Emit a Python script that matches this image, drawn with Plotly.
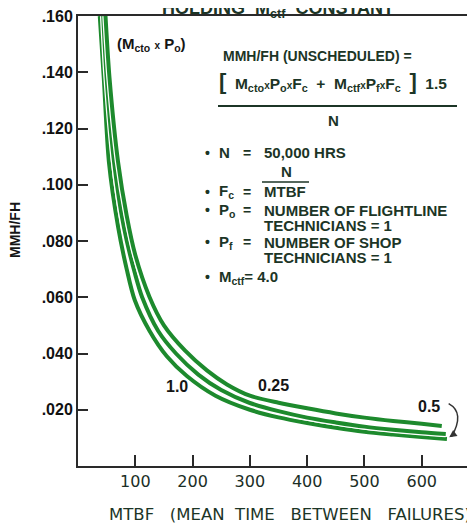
import plotly.graph_objects as go

# ---- data ----
mtbf_10 = [48, 55, 70, 85, 100, 125, 150, 187, 225, 260, 300, 350, 400, 450, 500, 550, 600, 635]
mmh_10 = [0.160, 0.138, 0.108, 0.089, 0.075, 0.060, 0.050, 0.041, 0.034, 0.029, 0.025, 0.0225,
          0.0205, 0.0187, 0.0172, 0.0160, 0.0150, 0.0142]

mtbf_05 = [44, 50, 63, 80, 100, 112, 140, 171, 210, 250, 300, 350, 400, 450, 500, 550, 600, 642]
mmh_05 = [0.160, 0.138, 0.108, 0.085, 0.068, 0.060, 0.048, 0.0400, 0.0325, 0.027, 0.0224, 0.0195,
          0.0172, 0.0155, 0.0140, 0.0129, 0.0120, 0.0114]

mtbf_025 = [38, 45, 54, 70, 85, 99, 125, 155, 190, 240, 300, 350, 400, 450, 500, 550, 600, 644]
mmh_025 = [0.160, 0.138, 0.108, 0.085, 0.070, 0.059, 0.048, 0.039, 0.032, 0.025, 0.020, 0.0173,
           0.0153, 0.0136, 0.0122, 0.0112, 0.0103, 0.0096]

x_ticks = [100, 200, 300, 400, 500, 600]
x_tick_labels = ["100", "200", "300", "400", "500", "600"]
y_ticks = [0.02, 0.04, 0.06, 0.08, 0.10, 0.12, 0.14, 0.16]
y_tick_labels = [".020", ".040", ".060", ".080", ".100", ".120", ".140", ".160"]

curve_labels = ["1.0", "0.25", "0.5"]

GREEN = "#1d8a2d"
TXT = "#1c3526"
DARK = "#151515"

fig = go.Figure()
for xs, ys in [(mtbf_025, mmh_025), (mtbf_05, mmh_05), (mtbf_10, mmh_10)]:
    fig.add_trace(go.Scatter(x=xs, y=ys, mode="lines",
                             line=dict(color="white", width=6.5, shape="spline", smoothing=0.8),
                             hoverinfo="skip", showlegend=False))
    fig.add_trace(go.Scatter(x=xs, y=ys, mode="lines",
                             line=dict(color=GREEN, width=4, shape="spline", smoothing=0.8),
                             showlegend=False))

# page has an 8px body margin; helpers map page pixels to paper coords
# plot area in page pixels: x 78..475, y 16..466
def px(xp):
    return (xp - 78) / (475 - 78)
def py(yp):
    return (466 - yp) / (466 - 16)

ann = []
def A(x, y, text, size=15, color=TXT, xanchor="left", family="Liberation Sans", **kw):
    ann.append(dict(x=px(x), y=py(y), xref="paper", yref="paper", text=text, showarrow=False,
                    xanchor=xanchor, yanchor="middle",
                    font=dict(size=size, color=color, family=family), **kw))

SX = "<span style='font-size:10px'>x</span>"
A(278, 10, "<b>HOLDING  M<sub>ctf</sub>  CONSTANT</b>", size=18, xanchor="center")
A(115, 45, "<b>(M<sub>cto</sub> " + SX + " P<sub>o</sub>)</b>", size=15, color=DARK)
A(221, 56, "<b>MMH/FH (UNSCHEDULED) =</b>", size=14)
A(217, 82, "<b><span style='font-size:22px'>[</span>  M<sub>cto</sub>" + SX + "P<sub>o</sub>" + SX +
  "F<sub>c</sub>  +  M<sub>ctf</sub>" + SX + "P<sub>f</sub>" + SX + "F<sub>c</sub>  "
  "<span style='font-size:22px'>]</span>  1.5</b>", size=15.5)
A(333, 121, "<b>N</b>", size=15, xanchor="center")

# bullet list
rows = [(153, "N", "50,000 HRS"), (192, "F<sub>c</sub>", "MTBF"),
        (210, "P<sub>o</sub>", "NUMBER OF FLIGHTLINE"), (242, "P<sub>f</sub>", "NUMBER OF SHOP")]
for yy, sym, val in rows:
    A(203, yy, "<b>•</b>", size=14)
    A(217, yy, "<b>" + sym + "</b>", size=15)
    A(247, yy, "<b>=</b>", size=14, xanchor="center")
    A(262, yy, "<b>" + val + "</b>", size=15)
A(262, 225, "<b>TECHNICIANS = 1</b>", size=15)
A(262, 257, "<b>TECHNICIANS = 1</b>", size=15)
A(286, 171, "<b>N</b>", size=15, xanchor="center")
A(203, 277, "<b>•</b>", size=14)
A(217, 277, "<b>M<sub>ctf</sub>= 4.0</b>", size=15)

# curve labels
A(177, 386, "<b>" + curve_labels[0] + "</b>", size=16, color=DARK, xanchor="center")
A(273, 385, "<b>" + curve_labels[1] + "</b>", size=16, color=DARK, xanchor="center")
A(429, 407, "<b>" + curve_labels[2] + "</b>", size=16, color=DARK, xanchor="center")

# axis titles
A(15, 230, "<b>MMH/FH</b>", size=14, color=DARK, xanchor="center", textangle=-90)
A(107, 515, "MTBF   (MEAN  TIME   BETWEEN   FAILURES)", size=16.5, color=TXT, family="DejaVu Sans")

# arrowhead for 0.5 label
ann.append(dict(x=648, y=0.0102, xref="x", yref="y", ax=7, ay=-5, showarrow=True,
                arrowhead=2, arrowsize=1, arrowwidth=1.5, arrowcolor="#333333", text=""))

shapes = [
    dict(type="line", xref="paper", yref="paper", x0=px(218), x1=px(457), y0=py(106), y1=py(106),
         line=dict(color=TXT, width=1.8)),
    dict(type="line", xref="paper", yref="paper", x0=px(262), x1=px(309), y0=py(182), y1=py(182),
         line=dict(color=TXT, width=1.5)),
    dict(type="path", xref="x", yref="y",
         path="M 647,0.0222 Q 676,0.019 652,0.0104",
         line=dict(color="#333333", width=1.5)),
]

fig.update_layout(
    width=467, height=519,
    margin=dict(l=70, r=0, t=8, b=61),
    paper_bgcolor="white", plot_bgcolor="white",
    showlegend=False,
    annotations=ann, shapes=shapes,
    xaxis=dict(range=[0, 693], tickvals=x_ticks, ticktext=x_tick_labels,
               ticks="inside", ticklen=11, tickwidth=1.5, tickcolor="#2a2a2a",
               showline=True, linecolor="#2a2a2a", linewidth=2, mirror=True,
               showgrid=False, zeroline=False, ticklabeloverflow="allow",
               tickfont=dict(size=16, color="#1b2e26", family="DejaVu Sans")),
    yaxis=dict(range=[0, 0.160], tickvals=y_ticks, ticktext=["<b>" + t + "</b>" for t in y_tick_labels],
               ticks="inside", ticklen=10, tickwidth=1.5, tickcolor="#2a2a2a",
               showline=True, linecolor="#2a2a2a", linewidth=2,
               showgrid=False, zeroline=False, ticklabeloverflow="allow",
               tickfont=dict(size=16, color="#111111", family="Liberation Sans")),
)

fig.write_html("out.html")
